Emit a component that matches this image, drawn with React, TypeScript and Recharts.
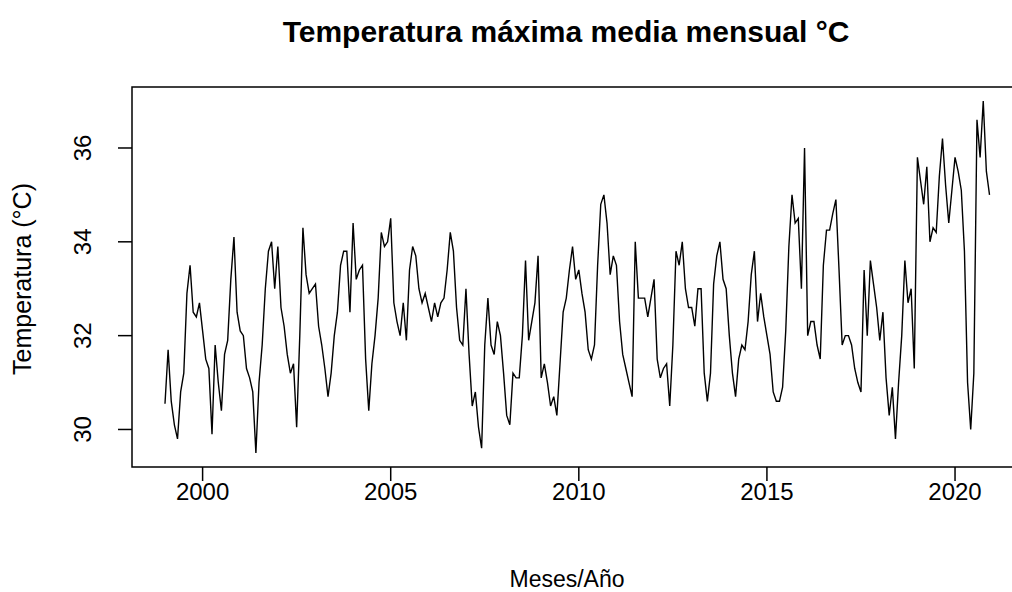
import React from "react";
import {
  LineChart,
  Line,
  XAxis,
  YAxis,
  ReferenceArea,
  Customized,
} from "recharts";

// monthly mean of the daily maximum temperature, Jan..Dec per year
const startYear = 1999;
const t1999 = [30.55, 31.7, 30.6, 30.1, 29.8, 30.8, 31.2, 32.9, 33.5, 32.5, 32.4, 32.7];
const t2000 = [32.1, 31.5, 31.3, 29.9, 31.8, 31.0, 30.4, 31.6, 31.9, 33.2, 34.1, 32.5];
const t2001 = [32.1, 32.0, 31.3, 31.1, 30.8, 29.5, 31.0, 31.8, 33.0, 33.8, 34.0, 33.0];
const t2002 = [33.9, 32.6, 32.2, 31.6, 31.2, 31.4, 30.05, 32.0, 34.3, 33.3, 32.9, 33.0];
const t2003 = [33.1, 32.2, 31.8, 31.3, 30.7, 31.2, 32.0, 32.5, 33.5, 33.8, 33.8, 32.5];
const t2004 = [34.4, 33.2, 33.4, 33.5, 31.5, 30.4, 31.4, 32.0, 32.8, 34.2, 33.9, 34.0];
const t2005 = [34.5, 32.7, 32.3, 32.0, 32.7, 31.9, 33.4, 33.9, 33.7, 33.0, 32.7, 32.9];
const t2006 = [32.6, 32.3, 32.7, 32.4, 32.7, 32.8, 33.4, 34.2, 33.8, 32.6, 31.9, 31.8];
const t2007 = [33.0, 31.6, 30.5, 30.8, 30.05, 29.6, 31.8, 32.8, 31.8, 31.6, 32.3, 32.0];
const t2008 = [31.2, 30.3, 30.1, 31.2, 31.1, 31.1, 32.0, 33.6, 31.9, 32.3, 32.7, 33.7];
const t2009 = [31.1, 31.4, 31.0, 30.5, 30.7, 30.3, 31.4, 32.5, 32.8, 33.4, 33.9, 33.2];
const t2010 = [33.4, 32.9, 32.5, 31.7, 31.5, 31.8, 33.5, 34.8, 35.0, 34.4, 33.3, 33.7];
const t2011 = [33.5, 32.3, 31.6, 31.3, 31.0, 30.7, 34.0, 32.8, 32.8, 32.8, 32.4, 32.8];
const t2012 = [33.2, 31.5, 31.1, 31.3, 31.4, 30.5, 31.8, 33.8, 33.5, 34.0, 33.0, 32.6];
const t2013 = [32.6, 32.2, 33.0, 33.0, 31.2, 30.6, 31.2, 33.1, 33.7, 34.0, 33.2, 33.0];
const t2014 = [32.0, 31.2, 30.7, 31.5, 31.8, 31.7, 32.3, 33.3, 33.8, 32.3, 32.9, 32.4];
const t2015 = [32.0, 31.6, 30.8, 30.6, 30.6, 30.9, 32.1, 33.9, 35.0, 34.4, 34.5, 33.0];
const t2016 = [36.0, 32.0, 32.3, 32.3, 31.8, 31.5, 33.5, 34.25, 34.25, 34.6, 34.9, 33.4];
const t2017 = [31.8, 32.0, 32.0, 31.8, 31.3, 31.0, 30.8, 33.4, 32.0, 33.6, 33.1, 32.6];
const t2018 = [31.9, 32.5, 31.1, 30.3, 30.9, 29.8, 31.0, 32.0, 33.6, 32.7, 33.0, 31.3];
const t2019 = [35.8, 35.3, 34.8, 35.6, 34.0, 34.3, 34.2, 35.4, 36.2, 35.2, 34.4, 35.1];
const t2020 = [35.8, 35.5, 35.1, 33.8, 31.0, 30.0, 31.2, 36.6, 35.8, 37.0, 35.5, 35.0];

const years = [
  t1999, t2000, t2001, t2002, t2003, t2004, t2005, t2006, t2007, t2008, t2009,
  t2010, t2011, t2012, t2013, t2014, t2015, t2016, t2017, t2018, t2019, t2020,
];

const xTicks = [2000, 2005, 2010, 2015, 2020];
const yTicks = [30, 32, 34, 36];

const data = years.flatMap((vals, yi) =>
  vals.map((v, m) => ({ t: startYear + yi + m / 12, v }))
);

// R pads each axis range by 4%
const pad = (lo: number, hi: number): [number, number] => {
  const d = (hi - lo) * 0.04;
  return [lo - d, hi + d];
};
const xDomain = pad(data[0].t, data[data.length - 1].t);
const allV = data.map((d) => d.v);
const yDomain = pad(Math.min(...allV), Math.max(...allV));

const FONT = "'Liberation Sans', Arial, sans-serif";

const XTick = (props: any) => {
  const { x, y, payload } = props;
  return (
    <text x={x} y={y + 17} textAnchor="middle" fontSize={24} fontFamily={FONT} fill="#000">
      {payload.value}
    </text>
  );
};

const YTick = (props: any) => {
  const { x, y, payload } = props;
  const bx = x - 25;
  return (
    <text
      x={bx}
      y={y}
      transform={`rotate(-90, ${bx}, ${y})`}
      textAnchor="middle"
      fontSize={24}
      fontFamily={FONT}
      fill="#000"
    >
      {payload.value}
    </text>
  );
};

const Titles = () => (
  <g fontFamily={FONT} fill="#000">
    <text x={566} y={42} textAnchor="middle" fontSize={30} fontWeight="bold">
      Temperatura máxima media mensual °C
    </text>
    <text x={567} y={587} textAnchor="middle" fontSize={23}>
      Meses/Año
    </text>
    <text x={31} y={279} transform="rotate(-90, 31, 279)" textAnchor="middle" fontSize={25}>
      Temperatura (°C)
    </text>
  </g>
);

export default function App() {
  return (
    <div
      style={{
        position: "fixed",
        left: 0,
        top: 0,
        width: 1012,
        height: 592,
        overflow: "hidden",
        background: "#fff",
      }}
    >
      <LineChart
        width={1040}
        height={592}
        data={data}
        margin={{ top: 87, right: 17.5, bottom: 0, left: 0 }}
      >
        <XAxis
          type="number"
          dataKey="t"
          domain={xDomain}
          ticks={xTicks}
          allowDataOverflow
          axisLine={false}
          tickLine={{ stroke: "#000", strokeWidth: 1.5 }}
          tickSize={14}
          tick={<XTick />}
          height={125}
        />
        <YAxis
          type="number"
          domain={yDomain}
          ticks={yTicks}
          allowDataOverflow
          axisLine={false}
          tickLine={{ stroke: "#000", strokeWidth: 1.5 }}
          tickSize={14}
          tick={<YTick />}
          width={132}
        />
        <ReferenceArea
          x1={xDomain[0]}
          x2={xDomain[1]}
          y1={yDomain[0]}
          y2={yDomain[1]}
          fill="none"
          stroke="#000"
          strokeWidth={1.5}
          ifOverflow="visible"
        />
        <Line
          type="linear"
          dataKey="v"
          stroke="#000"
          strokeWidth={1.4}
          dot={false}
          isAnimationActive={false}
        />
        <Customized component={Titles} />
      </LineChart>
    </div>
  );
}
